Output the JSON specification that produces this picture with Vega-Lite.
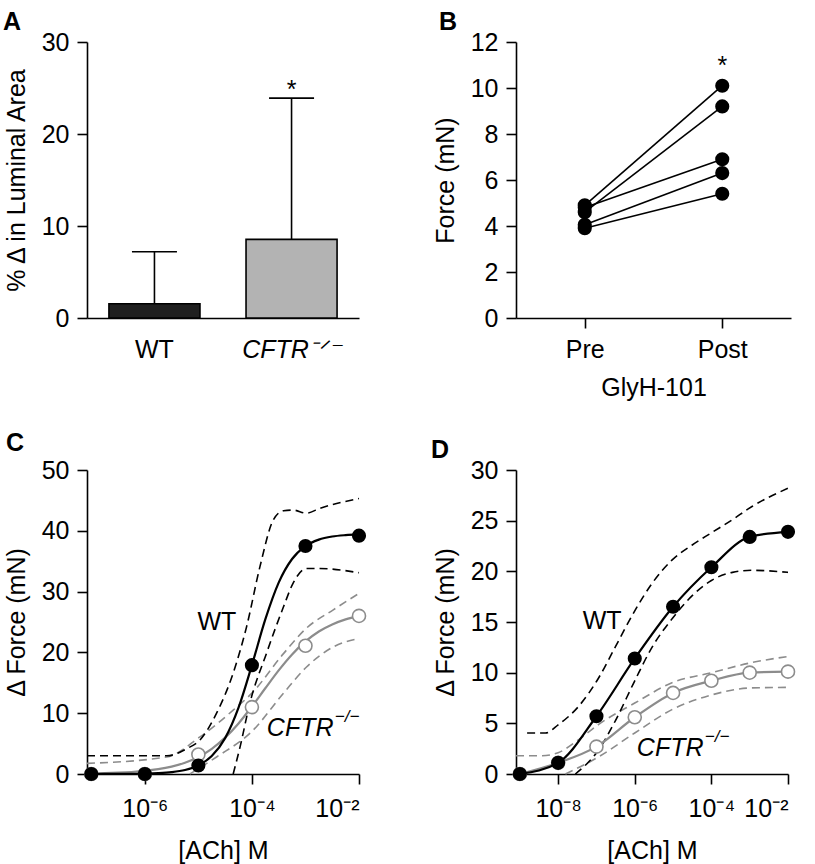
{
  "$schema": "https://vega.github.io/schema/vega-lite/v6.json",
  "background": "white",
  "padding": {"left": 3, "top": 9, "right": 5, "bottom": 2},
  "columns": 2,
  "spacing": {"row": 152, "column": 157},
  "bounds": "flush",
  "config": {
    "font": "Liberation Sans",
    "view": {"stroke": null},
    "axis": {
      "grid": false,
      "domainColor": "black",
      "tickColor": "black",
      "labelColor": "black",
      "titleColor": "black",
      "labelFont": "Liberation Sans",
      "titleFont": "Liberation Sans",
      "labelFontSize": 25,
      "titleFontSize": 25,
      "titleFontWeight": "normal",
      "domainWidth": 1.6,
      "tickWidth": 1.6,
      "tickSize": 10,
      "labelPadding": 8,
      "titlePadding": 12
    },
    "title": {
      "anchor": "start",
      "frame": "group",
      "font": "Liberation Sans",
      "fontSize": 25,
      "fontWeight": "bold",
      "color": "black",
      "offset": -4.5
    }
  },
  "datasets": {
    "bars": [
      {"genotype": "WT", "mean": 1.55, "upper": 7.2, "star": null},
      {"genotype": "CFTR", "mean": 8.55, "upper": 23.9, "star": 23.95}
    ],
    "paired": [
      {"subject": 1, "cond": "Pre", "force": 4.9},
      {"subject": 1, "cond": "Post", "force": 10.1},
      {"subject": 2, "cond": "Pre", "force": 4.6},
      {"subject": 2, "cond": "Post", "force": 9.2},
      {"subject": 3, "cond": "Pre", "force": 4.8},
      {"subject": 3, "cond": "Post", "force": 6.9},
      {"subject": 4, "cond": "Pre", "force": 4.05},
      {"subject": 4, "cond": "Post", "force": 6.3},
      {"subject": 5, "cond": "Pre", "force": 3.9},
      {"subject": 5, "cond": "Post", "force": 5.4}
    ],
    "pairedStar": [{"cond": "Post", "force": 10.63}],
    "Cpts": [
      {"series": "WT", "conc": 1e-7, "force": 0},
      {"series": "WT", "conc": 1e-6, "force": 0},
      {"series": "WT", "conc": 1e-5, "force": 1.4},
      {"series": "WT", "conc": 1e-4, "force": 17.9},
      {"series": "WT", "conc": 1e-3, "force": 37.5},
      {"series": "WT", "conc": 1e-2, "force": 39.2},
      {"series": "CFTR", "conc": 1e-7, "force": 0},
      {"series": "CFTR", "conc": 1e-6, "force": 0},
      {"series": "CFTR", "conc": 1e-5, "force": 3.2},
      {"series": "CFTR", "conc": 1e-4, "force": 11.0},
      {"series": "CFTR", "conc": 1e-3, "force": 21.1},
      {"series": "CFTR", "conc": 1e-2, "force": 26.0}
    ],
    "Ccurves": [
      {"series": "WT", "line": "fit", "conc": 1e-7, "force": 0.003},
      {"series": "WT", "line": "fit", "conc": 1.778e-7, "force": 0.006},
      {"series": "WT", "line": "fit", "conc": 3.162e-7, "force": 0.014},
      {"series": "WT", "line": "fit", "conc": 5.623e-7, "force": 0.03},
      {"series": "WT", "line": "fit", "conc": 1e-6, "force": 0.065},
      {"series": "WT", "line": "fit", "conc": 1.778e-6, "force": 0.142},
      {"series": "WT", "line": "fit", "conc": 3.162e-6, "force": 0.308},
      {"series": "WT", "line": "fit", "conc": 5.623e-6, "force": 0.662},
      {"series": "WT", "line": "fit", "conc": 1e-5, "force": 1.41},
      {"series": "WT", "line": "fit", "conc": 1.778e-5, "force": 2.95},
      {"series": "WT", "line": "fit", "conc": 3.162e-5, "force": 5.9},
      {"series": "WT", "line": "fit", "conc": 5.623e-5, "force": 10.91},
      {"series": "WT", "line": "fit", "conc": 1e-4, "force": 17.91},
      {"series": "WT", "line": "fit", "conc": 1.778e-4, "force": 25.42},
      {"series": "WT", "line": "fit", "conc": 3.162e-4, "force": 31.48},
      {"series": "WT", "line": "fit", "conc": 5.623e-4, "force": 35.36},
      {"series": "WT", "line": "fit", "conc": 1e-3, "force": 37.48},
      {"series": "WT", "line": "fit", "conc": 1.778e-3, "force": 38.55},
      {"series": "WT", "line": "fit", "conc": 3.162e-3, "force": 39.06},
      {"series": "WT", "line": "fit", "conc": 5.623e-3, "force": 39.29},
      {"series": "WT", "line": "fit", "conc": 1e-2, "force": 39.41},
      {"series": "WT", "line": "upper", "conc": 8.318e-8, "force": 3.0},
      {"series": "WT", "line": "upper", "conc": 3.162e-7, "force": 3.0},
      {"series": "WT", "line": "upper", "conc": 2.57e-6, "force": 3.0},
      {"series": "WT", "line": "upper", "conc": 6.166e-6, "force": 4.2},
      {"series": "WT", "line": "upper", "conc": 1.072e-5, "force": 5.6},
      {"series": "WT", "line": "upper", "conc": 2.188e-5, "force": 10.0},
      {"series": "WT", "line": "upper", "conc": 4.467e-5, "force": 16.6},
      {"series": "WT", "line": "upper", "conc": 7.943e-5, "force": 24.2},
      {"series": "WT", "line": "upper", "conc": 1.413e-4, "force": 34.1},
      {"series": "WT", "line": "upper", "conc": 2.512e-4, "force": 41.8},
      {"series": "WT", "line": "upper", "conc": 3.89e-4, "force": 43.3},
      {"series": "WT", "line": "upper", "conc": 5.888e-4, "force": 43.4},
      {"series": "WT", "line": "upper", "conc": 1.047e-3, "force": 42.9},
      {"series": "WT", "line": "upper", "conc": 1.862e-3, "force": 43.7},
      {"series": "WT", "line": "upper", "conc": 1e-2, "force": 45.3},
      {"series": "WT", "line": "lower", "conc": 4.467e-5, "force": 0},
      {"series": "WT", "line": "lower", "conc": 6.026e-5, "force": 4.5},
      {"series": "WT", "line": "lower", "conc": 9.12e-5, "force": 11.6},
      {"series": "WT", "line": "lower", "conc": 1.862e-4, "force": 19.8},
      {"series": "WT", "line": "lower", "conc": 3.89e-4, "force": 27.5},
      {"series": "WT", "line": "lower", "conc": 5.888e-4, "force": 31.4},
      {"series": "WT", "line": "lower", "conc": 1.047e-3, "force": 33.8},
      {"series": "WT", "line": "lower", "conc": 1.862e-3, "force": 33.8},
      {"series": "WT", "line": "lower", "conc": 1e-2, "force": 33.1},
      {"series": "CFTR", "line": "fit", "conc": 1e-7, "force": 0.086},
      {"series": "CFTR", "line": "fit", "conc": 1.778e-7, "force": 0.134},
      {"series": "CFTR", "line": "fit", "conc": 3.162e-7, "force": 0.21},
      {"series": "CFTR", "line": "fit", "conc": 5.623e-7, "force": 0.327},
      {"series": "CFTR", "line": "fit", "conc": 1e-6, "force": 0.51},
      {"series": "CFTR", "line": "fit", "conc": 1.778e-6, "force": 0.79},
      {"series": "CFTR", "line": "fit", "conc": 3.162e-6, "force": 1.22},
      {"series": "CFTR", "line": "fit", "conc": 5.623e-6, "force": 1.86},
      {"series": "CFTR", "line": "fit", "conc": 1e-5, "force": 2.8},
      {"series": "CFTR", "line": "fit", "conc": 1.778e-5, "force": 4.15},
      {"series": "CFTR", "line": "fit", "conc": 3.162e-5, "force": 5.98},
      {"series": "CFTR", "line": "fit", "conc": 5.623e-5, "force": 8.32},
      {"series": "CFTR", "line": "fit", "conc": 1e-4, "force": 11.1},
      {"series": "CFTR", "line": "fit", "conc": 1.778e-4, "force": 14.1},
      {"series": "CFTR", "line": "fit", "conc": 3.162e-4, "force": 17.05},
      {"series": "CFTR", "line": "fit", "conc": 5.623e-4, "force": 19.67},
      {"series": "CFTR", "line": "fit", "conc": 1e-3, "force": 21.8},
      {"series": "CFTR", "line": "fit", "conc": 1.778e-3, "force": 23.44},
      {"series": "CFTR", "line": "fit", "conc": 3.162e-3, "force": 24.6},
      {"series": "CFTR", "line": "fit", "conc": 5.623e-3, "force": 25.43},
      {"series": "CFTR", "line": "fit", "conc": 1e-2, "force": 26.0},
      {"series": "CFTR", "line": "upper", "conc": 8.318e-8, "force": 1.75},
      {"series": "CFTR", "line": "upper", "conc": 2.57e-6, "force": 2.8},
      {"series": "CFTR", "line": "upper", "conc": 1.072e-5, "force": 6.1},
      {"series": "CFTR", "line": "upper", "conc": 4.467e-5, "force": 10.5},
      {"series": "CFTR", "line": "upper", "conc": 1e-4, "force": 13.3},
      {"series": "CFTR", "line": "upper", "conc": 3.89e-4, "force": 19.8},
      {"series": "CFTR", "line": "upper", "conc": 1.047e-3, "force": 24.0},
      {"series": "CFTR", "line": "upper", "conc": 3.311e-3, "force": 27.0},
      {"series": "CFTR", "line": "upper", "conc": 1e-2, "force": 29.7},
      {"series": "CFTR", "line": "lower", "conc": 6.918e-6, "force": 0},
      {"series": "CFTR", "line": "lower", "conc": 2.188e-5, "force": 2.8},
      {"series": "CFTR", "line": "lower", "conc": 1e-4, "force": 7.0},
      {"series": "CFTR", "line": "lower", "conc": 3.89e-4, "force": 13.3},
      {"series": "CFTR", "line": "lower", "conc": 1.047e-3, "force": 17.6},
      {"series": "CFTR", "line": "lower", "conc": 3.311e-3, "force": 20.9},
      {"series": "CFTR", "line": "lower", "conc": 1e-2, "force": 22.3}
    ],
    "Dpts": [
      {"series": "WT", "conc": 1e-9, "force": 0},
      {"series": "WT", "conc": 1e-8, "force": 1.1},
      {"series": "WT", "conc": 1e-7, "force": 5.7},
      {"series": "WT", "conc": 1e-6, "force": 11.4},
      {"series": "WT", "conc": 1e-5, "force": 16.5},
      {"series": "WT", "conc": 1e-4, "force": 20.4},
      {"series": "WT", "conc": 1e-3, "force": 23.4},
      {"series": "WT", "conc": 1e-2, "force": 23.9},
      {"series": "CFTR", "conc": 1e-9, "force": 0},
      {"series": "CFTR", "conc": 1e-8, "force": 1.1},
      {"series": "CFTR", "conc": 1e-7, "force": 2.7},
      {"series": "CFTR", "conc": 1e-6, "force": 5.6},
      {"series": "CFTR", "conc": 1e-5, "force": 8.0},
      {"series": "CFTR", "conc": 1e-4, "force": 9.2},
      {"series": "CFTR", "conc": 1e-3, "force": 10.0},
      {"series": "CFTR", "conc": 1e-2, "force": 10.1}
    ],
    "Dcurves": [
      {"series": "WT", "line": "fit", "conc": 1e-9, "force": 0},
      {"series": "WT", "line": "fit", "conc": 1e-8, "force": 1.1},
      {"series": "WT", "line": "fit", "conc": 1e-7, "force": 5.7},
      {"series": "WT", "line": "fit", "conc": 1e-6, "force": 11.4},
      {"series": "WT", "line": "fit", "conc": 1e-5, "force": 16.5},
      {"series": "WT", "line": "fit", "conc": 1e-4, "force": 20.4},
      {"series": "WT", "line": "fit", "conc": 1e-3, "force": 23.4},
      {"series": "WT", "line": "fit", "conc": 1e-2, "force": 23.9},
      {"series": "WT", "line": "upper", "conc": 1.549e-9, "force": 4.05},
      {"series": "WT", "line": "upper", "conc": 4.677e-9, "force": 4.05},
      {"series": "WT", "line": "upper", "conc": 1e-8, "force": 4.85},
      {"series": "WT", "line": "upper", "conc": 3.467e-8, "force": 6.7},
      {"series": "WT", "line": "upper", "conc": 1.148e-7, "force": 9.5},
      {"series": "WT", "line": "upper", "conc": 3.162e-7, "force": 12.6},
      {"series": "WT", "line": "upper", "conc": 1e-6, "force": 16.1},
      {"series": "WT", "line": "upper", "conc": 2.818e-6, "force": 18.8},
      {"series": "WT", "line": "upper", "conc": 9.333e-6, "force": 21.1},
      {"series": "WT", "line": "upper", "conc": 3.162e-5, "force": 22.6},
      {"series": "WT", "line": "upper", "conc": 1e-4, "force": 23.8},
      {"series": "WT", "line": "upper", "conc": 3.548e-4, "force": 25.1},
      {"series": "WT", "line": "upper", "conc": 1.148e-3, "force": 26.4},
      {"series": "WT", "line": "upper", "conc": 1e-2, "force": 28.2},
      {"series": "WT", "line": "lower", "conc": 2.818e-8, "force": 0},
      {"series": "WT", "line": "lower", "conc": 1.148e-7, "force": 2.4},
      {"series": "WT", "line": "lower", "conc": 3.162e-7, "force": 5.3},
      {"series": "WT", "line": "lower", "conc": 1e-6, "force": 9.2},
      {"series": "WT", "line": "lower", "conc": 2.818e-6, "force": 12.5},
      {"series": "WT", "line": "lower", "conc": 9.333e-6, "force": 15.3},
      {"series": "WT", "line": "lower", "conc": 3.162e-5, "force": 17.6},
      {"series": "WT", "line": "lower", "conc": 1e-4, "force": 19.1},
      {"series": "WT", "line": "lower", "conc": 3.548e-4, "force": 19.9},
      {"series": "WT", "line": "lower", "conc": 1.148e-3, "force": 20.1},
      {"series": "WT", "line": "lower", "conc": 1e-2, "force": 19.9},
      {"series": "CFTR", "line": "fit", "conc": 1e-9, "force": 0},
      {"series": "CFTR", "line": "fit", "conc": 1e-8, "force": 1.1},
      {"series": "CFTR", "line": "fit", "conc": 1e-7, "force": 2.7},
      {"series": "CFTR", "line": "fit", "conc": 1e-6, "force": 5.6},
      {"series": "CFTR", "line": "fit", "conc": 1e-5, "force": 8.0},
      {"series": "CFTR", "line": "fit", "conc": 1e-4, "force": 9.2},
      {"series": "CFTR", "line": "fit", "conc": 1e-3, "force": 10.0},
      {"series": "CFTR", "line": "fit", "conc": 1e-2, "force": 10.1},
      {"series": "CFTR", "line": "upper", "conc": 7.943e-10, "force": 1.8},
      {"series": "CFTR", "line": "upper", "conc": 3.802e-9, "force": 1.8},
      {"series": "CFTR", "line": "upper", "conc": 1e-8, "force": 2.1},
      {"series": "CFTR", "line": "upper", "conc": 3.467e-8, "force": 3.4},
      {"series": "CFTR", "line": "upper", "conc": 1.148e-7, "force": 4.9},
      {"series": "CFTR", "line": "upper", "conc": 1e-6, "force": 7.0},
      {"series": "CFTR", "line": "upper", "conc": 9.333e-6, "force": 9.0},
      {"series": "CFTR", "line": "upper", "conc": 1e-4, "force": 10.0},
      {"series": "CFTR", "line": "upper", "conc": 1.148e-3, "force": 11.0},
      {"series": "CFTR", "line": "upper", "conc": 1e-2, "force": 11.6},
      {"series": "CFTR", "line": "lower", "conc": 1.549e-8, "force": 0},
      {"series": "CFTR", "line": "lower", "conc": 1.148e-7, "force": 1.7},
      {"series": "CFTR", "line": "lower", "conc": 1e-6, "force": 4.05},
      {"series": "CFTR", "line": "lower", "conc": 9.333e-6, "force": 6.35},
      {"series": "CFTR", "line": "lower", "conc": 1e-4, "force": 7.8},
      {"series": "CFTR", "line": "lower", "conc": 1.148e-3, "force": 8.5},
      {"series": "CFTR", "line": "lower", "conc": 1e-2, "force": 8.55}
    ],
    "Clabels": [
      {"series": "WT", "conc": 2.22e-5, "force": 25.0},
      {"series": "CFTR", "conc": 1.9e-4, "force": 7.5}
    ],
    "Dlabels": [
      {"series": "WT", "conc": 1.41e-7, "force": 15.1},
      {"series": "CFTR", "conc": 1.135e-6, "force": 2.57}
    ]
  },
  "concat": [
    {
      "width": 272,
      "height": 276,
      "title": {"text": "A", "dx": -84},
      "data": {"name": "bars"},
      "encoding": {
        "x": {
          "field": "genotype",
          "type": "nominal",
          "sort": ["WT", "CFTR"],
          "scale": {"paddingInner": 0.336, "paddingOuter": 0.16},
          "axis": {
            "title": null,
            "ticks": false,
            "tickSize": 0,
            "labelAngle": 0,
            "labelPadding": 19,
            "labelExpr": "datum.value == 'CFTR' ? 'CFTR⁻ᐟ⁻' : datum.value",
            "labelFontStyle": {"condition": {"test": "datum.value == 'CFTR'", "value": "italic"}, "value": "normal"}
          }
        },
        "y": {
          "type": "quantitative",
          "scale": {"domain": [0, 30], "nice": false},
          "axis": {"title": "% Δ in Luminal Area", "values": [0, 10, 20, 30]}
        }
      },
      "layer": [
        {
          "mark": {"type": "rule", "color": "black", "strokeWidth": 1.6},
          "encoding": {"y": {"field": "mean", "type": "quantitative"}, "y2": {"field": "upper"}}
        },
        {
          "transform": [{"filter": "datum.genotype == 'WT'"}],
          "mark": {"type": "bar", "fill": "#1f1f1f", "stroke": "black", "strokeWidth": 1.6},
          "encoding": {"y": {"field": "mean", "type": "quantitative"}}
        },
        {
          "transform": [{"filter": "datum.genotype == 'CFTR'"}],
          "mark": {"type": "bar", "fill": "#b3b3b3", "stroke": "black", "strokeWidth": 1.6},
          "encoding": {"y": {"field": "mean", "type": "quantitative"}}
        },
        {
          "mark": {"type": "tick", "orient": "horizontal", "size": 45, "thickness": 1.6, "color": "black", "opacity": 1},
          "encoding": {"y": {"field": "upper", "type": "quantitative"}}
        },
        {
          "mark": {"type": "text", "text": "*", "fontSize": 25, "baseline": "alphabetic", "color": "black"},
          "encoding": {"y": {"field": "star", "type": "quantitative"}}
        }
      ]
    },
    {
      "width": 275,
      "height": 276,
      "title": {"text": "B", "dx": -77},
      "encoding": {
        "x": {
          "field": "cond",
          "type": "nominal",
          "sort": ["Pre", "Post"],
          "scale": {"type": "point", "padding": 0.5, "domain": ["Pre", "Post"]},
          "axis": {"title": "GlyH-101", "labelAngle": 0, "labelPadding": 9, "titlePadding": 13}
        },
        "y": {
          "field": "force",
          "type": "quantitative",
          "scale": {"domain": [0, 12], "nice": false},
          "axis": {"title": "Force (mN)", "values": [0, 2, 4, 6, 8, 10, 12]}
        }
      },
      "layer": [
        {
          "data": {"name": "paired"},
          "mark": {"type": "line", "color": "black", "strokeWidth": 1.6},
          "encoding": {"detail": {"field": "subject", "type": "nominal"}}
        },
        {
          "data": {"name": "paired"},
          "mark": {"type": "circle", "color": "black", "size": 200, "opacity": 1}
        },
        {
          "data": {"name": "pairedStar"},
          "mark": {"type": "text", "text": "*", "fontSize": 25, "baseline": "alphabetic", "color": "black"}
        }
      ]
    },
    {
      "width": 272,
      "height": 304,
      "title": {"text": "C", "dx": -81, "offset": 2.5},
      "encoding": {
        "x": {
          "field": "conc",
          "type": "quantitative",
          "scale": {"type": "log", "domain": [8.318e-8, 0.01], "nice": false},
          "axis": {
            "title": "[ACh] M",
            "values": [1e-6, 1e-4, 1e-2],
            "labelPadding": 12,
            "titlePadding": 17,
            "labelExpr": "'10' + (datum.value < 5e-8 ? '⁻⁸' : datum.value < 5e-6 ? '⁻⁶' : datum.value < 5e-4 ? '⁻⁴' : '⁻²')"
          }
        },
        "y": {
          "field": "force",
          "type": "quantitative",
          "scale": {"domain": [0, 50], "nice": false},
          "axis": {"title": "Δ Force (mN)", "values": [0, 10, 20, 30, 40, 50]}
        }
      },
      "layer": [
        {
          "data": {"name": "Ccurves"},
          "transform": [{"filter": "datum.series == 'CFTR' && datum.line != 'fit'"}],
          "mark": {"type": "line", "color": "#8c8c8c", "strokeWidth": 1.6, "strokeDash": [8, 5], "interpolate": "monotone"},
          "encoding": {"detail": {"field": "line", "type": "nominal"}}
        },
        {
          "data": {"name": "Ccurves"},
          "transform": [{"filter": "datum.series == 'WT' && datum.line != 'fit'"}],
          "mark": {"type": "line", "color": "black", "strokeWidth": 1.6, "strokeDash": [8, 5], "interpolate": "monotone"},
          "encoding": {"detail": {"field": "line", "type": "nominal"}}
        },
        {
          "data": {"name": "Ccurves"},
          "transform": [{"filter": "datum.series == 'CFTR' && datum.line == 'fit'"}],
          "mark": {"type": "line", "color": "#8c8c8c", "strokeWidth": 2.2, "interpolate": "monotone"}
        },
        {
          "data": {"name": "Cpts"},
          "transform": [{"filter": "datum.series == 'CFTR'"}],
          "mark": {"type": "point", "shape": "circle", "filled": false, "fill": "white", "fillOpacity": 1, "stroke": "#8c8c8c", "strokeWidth": 1.6, "size": 170, "opacity": 1}
        },
        {
          "data": {"name": "Ccurves"},
          "transform": [{"filter": "datum.series == 'WT' && datum.line == 'fit'"}],
          "mark": {"type": "line", "color": "black", "strokeWidth": 2.2, "interpolate": "monotone"}
        },
        {
          "data": {"name": "Cpts"},
          "transform": [{"filter": "datum.series == 'WT'"}],
          "mark": {"type": "circle", "color": "black", "size": 200, "opacity": 1}
        },
        {
          "data": {"name": "Clabels"},
          "transform": [{"filter": "datum.series == 'WT'"}],
          "mark": {"type": "text", "text": "WT", "fontSize": 25, "align": "center", "baseline": "middle", "color": "black"}
        },
        {
          "data": {"name": "Clabels"},
          "transform": [{"filter": "datum.series == 'CFTR'"}],
          "mark": {"type": "text", "text": "CFTR", "fontSize": 25, "fontStyle": "italic", "align": "left", "baseline": "middle", "color": "black"}
        },
        {
          "data": {"name": "Clabels"},
          "transform": [{"filter": "datum.series == 'CFTR'"}],
          "mark": {"type": "text", "text": "−/−", "fontSize": 17, "fontStyle": "italic", "align": "left", "baseline": "middle", "dx": 68, "dy": -11, "color": "black"}
        }
      ]
    },
    {
      "width": 272,
      "height": 304,
      "title": {"text": "D", "dx": -85},
      "encoding": {
        "x": {
          "field": "conc",
          "type": "quantitative",
          "scale": {"type": "log", "domain": [7.943e-10, 0.01], "nice": false},
          "axis": {
            "title": "[ACh] M",
            "values": [1e-8, 1e-6, 1e-4, 1e-2],
            "labelPadding": 12,
            "titlePadding": 17,
            "labelExpr": "'10' + (datum.value < 5e-8 ? '⁻⁸' : datum.value < 5e-6 ? '⁻⁶' : datum.value < 5e-4 ? '⁻⁴' : '⁻²')"
          }
        },
        "y": {
          "field": "force",
          "type": "quantitative",
          "scale": {"domain": [0, 30], "nice": false},
          "axis": {"title": "Δ Force (mN)", "values": [0, 5, 10, 15, 20, 25, 30]}
        }
      },
      "layer": [
        {
          "data": {"name": "Dcurves"},
          "transform": [{"filter": "datum.series == 'CFTR' && datum.line != 'fit'"}],
          "mark": {"type": "line", "color": "#8c8c8c", "strokeWidth": 1.6, "strokeDash": [8, 5], "interpolate": "monotone"},
          "encoding": {"detail": {"field": "line", "type": "nominal"}}
        },
        {
          "data": {"name": "Dcurves"},
          "transform": [{"filter": "datum.series == 'WT' && datum.line != 'fit'"}],
          "mark": {"type": "line", "color": "black", "strokeWidth": 1.6, "strokeDash": [8, 5], "interpolate": "monotone"},
          "encoding": {"detail": {"field": "line", "type": "nominal"}}
        },
        {
          "data": {"name": "Dcurves"},
          "transform": [{"filter": "datum.series == 'CFTR' && datum.line == 'fit'"}],
          "mark": {"type": "line", "color": "#8c8c8c", "strokeWidth": 2.2, "interpolate": "monotone"}
        },
        {
          "data": {"name": "Dpts"},
          "transform": [{"filter": "datum.series == 'CFTR'"}],
          "mark": {"type": "point", "shape": "circle", "filled": false, "fill": "white", "fillOpacity": 1, "stroke": "#8c8c8c", "strokeWidth": 1.6, "size": 170, "opacity": 1}
        },
        {
          "data": {"name": "Dcurves"},
          "transform": [{"filter": "datum.series == 'WT' && datum.line == 'fit'"}],
          "mark": {"type": "line", "color": "black", "strokeWidth": 2.2, "interpolate": "monotone"}
        },
        {
          "data": {"name": "Dpts"},
          "transform": [{"filter": "datum.series == 'WT'"}],
          "mark": {"type": "circle", "color": "black", "size": 200, "opacity": 1}
        },
        {
          "data": {"name": "Dlabels"},
          "transform": [{"filter": "datum.series == 'WT'"}],
          "mark": {"type": "text", "text": "WT", "fontSize": 25, "align": "center", "baseline": "middle", "color": "black"}
        },
        {
          "data": {"name": "Dlabels"},
          "transform": [{"filter": "datum.series == 'CFTR'"}],
          "mark": {"type": "text", "text": "CFTR", "fontSize": 25, "fontStyle": "italic", "align": "left", "baseline": "middle", "color": "black"}
        },
        {
          "data": {"name": "Dlabels"},
          "transform": [{"filter": "datum.series == 'CFTR'"}],
          "mark": {"type": "text", "text": "−/−", "fontSize": 17, "fontStyle": "italic", "align": "left", "baseline": "middle", "dx": 68, "dy": -11, "color": "black"}
        }
      ]
    }
  ]
}
